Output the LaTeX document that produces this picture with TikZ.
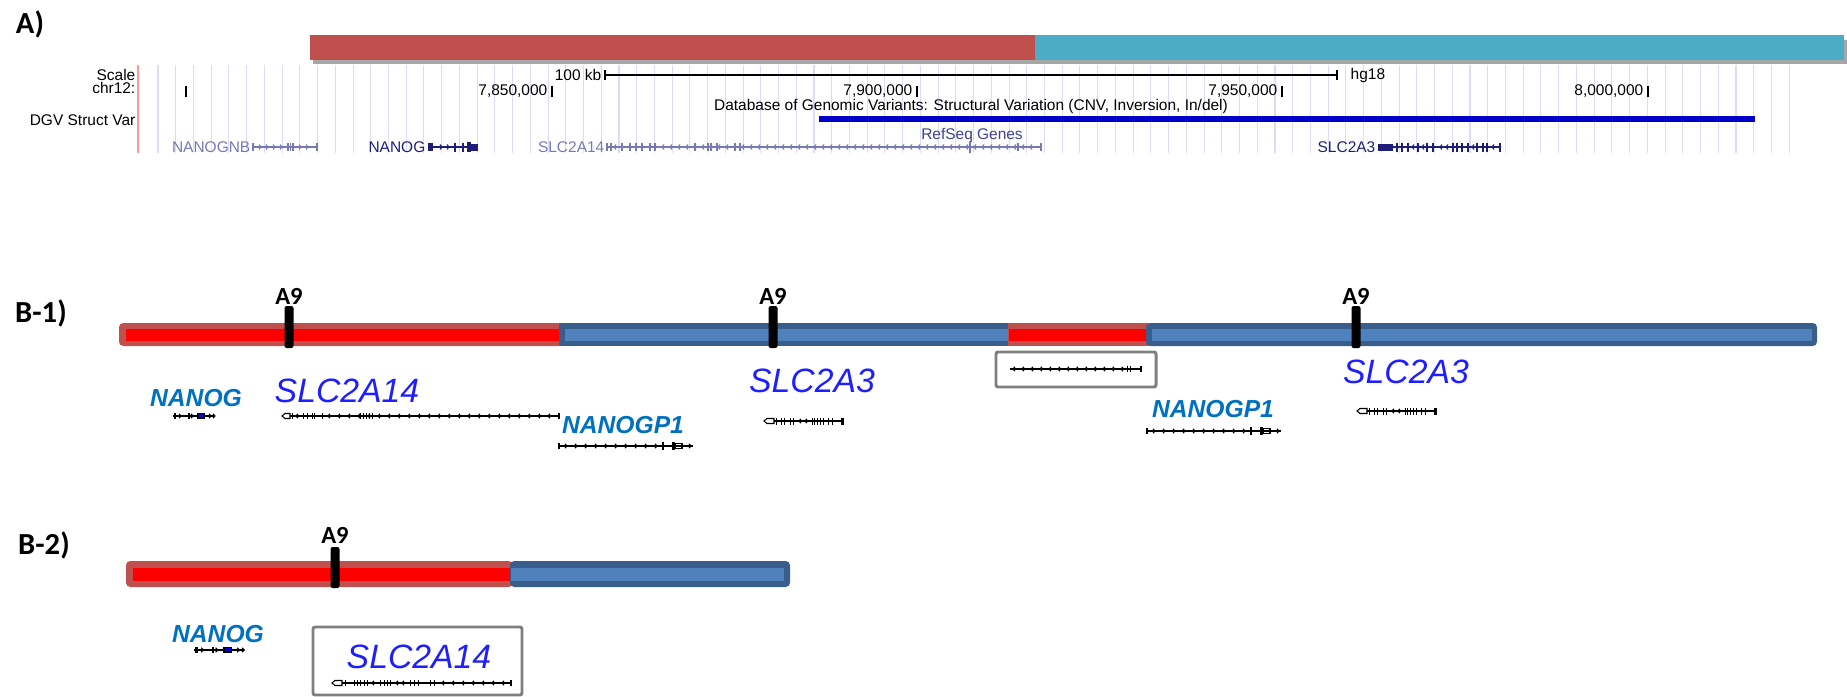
\documentclass[tikz,border=0pt]{standalone}
\usepackage{fontspec}
\setmainfont{Liberation Sans}
\newfontfamily\calibri{Carlito}
\definecolor{barred}{HTML}{C0504D}
\definecolor{barcyan}{HTML}{4BACC6}
\definecolor{rimblue}{HTML}{3A5E8C}
\definecolor{coreblue}{HTML}{4F81BD}
\definecolor{gridlav}{HTML}{DCDCF6}
\definecolor{ucsclight}{HTML}{7878B4}
\definecolor{ucscnavy}{HTML}{1E1E78}
\definecolor{dgvblue}{HTML}{0000C8}
\definecolor{genelabel}{HTML}{1E1EFF}
\definecolor{nanoglabel}{HTML}{0070C0}
\definecolor{boxgray}{HTML}{7F7F7F}

\begin{document}
\begin{tikzpicture}[x=0.01cm, y=-0.01cm,
  panel/.style={font=\calibri\bfseries\fontsize{8.7}{10}\selectfont, inner sep=0pt},
  site/.style={font=\calibri\bfseries\fontsize{7}{8}\selectfont, inner sep=0pt},
  ucsc/.style={font=\fontsize{4.4}{5}\selectfont, inner sep=0pt},
  biglbl/.style={font=\itshape\fontsize{9.6}{11}\selectfont, text=genelabel, inner sep=0pt},
  smalllbl/.style={font=\bfseries\itshape\fontsize{7}{8}\selectfont, text=nanoglabel, inner sep=0pt},
  gl/.style={line width=0.3pt},
  graybox/.style={draw=boxgray, line width=0.85pt, rounded corners=0.6pt},
  rc/.style={rounded corners=1.2pt},
  % gene glyphs of panel B, origin at the left end of the gene
  nanoggene/.pic={
    \draw[gl] (0,0) -- (42,0);
    \fill (1,-3) rectangle (3,3);
    \draw[gl] (6,-2.2) -- (8,0) -- (6,2.2);
    \fill (15,-3) rectangle (16.5,3);
    \draw[gl] (18,-2.2) -- (20,0) -- (18,2.2);
    \fill (24,-3) rectangle (25.5,3);
    \draw[gl, fill=dgvblue] (25.5,-2.5) rectangle (31,2.5);
    \draw[gl] (36,-2.2) -- (38,0) -- (36,2.2);
    \draw[gl] (40,-2.2) -- (42,0) -- (40,2.2);
  },
  slcfourteengene/.pic={
    \draw[gl] (0,0) -- (3,-2.5) -- (8,-2.5) -- (8,2.5) -- (3,2.5) -- cycle;
    \draw[gl] (8,0) -- (277,0);
    \foreach \x in {10,21,25,30,32,40,78,81,84,87,90}
      \fill (\x,-3) rectangle (\x+1.2,3);
    \foreach \x in {14,46,56,...,266}
      \draw[gl] (\x+2,-2.2) -- (\x,0) -- (\x+2,2.2);
    \draw[gl] (277,-3) -- (277,3);
  },
  nanogpgene/.pic={
    \draw[gl] (0,0) -- (134,0);
    \draw[gl] (0,-3) -- (0,3);
    \foreach \x in {8,18,...,98}
      \draw[gl] (\x-2,-2.2) -- (\x,0) -- (\x-2,2.2);
    \draw[gl] (104,-4) -- (104,4);
    \fill (113,-4) rectangle (116,4);
    \draw[gl] (116,-2.5) rectangle (123,2.5);
    \draw[gl] (130,-2.2) -- (132,0) -- (130,2.2);
  },
  slcthreegene/.pic={
    \draw[gl] (0,0) -- (3,-2.5) -- (10,-2.5) -- (10,2.5) -- (3,2.5) -- cycle;
    \draw[gl] (10,0) -- (79,0);
    \foreach \x in {12,17,20,26,29,48,50,53,56,59,64,68,77}
      \fill (\x,-3.5) rectangle (\x+1.2,3.5);
    \foreach \x in {35,41}
      \draw[gl] (\x+2,-2.2) -- (\x,0) -- (\x+2,2.2);
    \draw[gl] (79,-3.5) -- (79,3.5);
  },
  boxedgene/.pic={
    \draw[gl] (0,0) -- (131,0);
    \foreach \x in {3,12,...,112}
      \draw[gl] (\x+2,-2.2) -- (\x,0) -- (\x+2,2.2);
    \fill (117,-3) rectangle (118,3);
    \fill (119.5,-3) rectangle (120.5,3);
    \draw[gl] (131,-3) -- (131,3);
  },
  slcfourteenshort/.pic={
    \draw[gl] (0,0) -- (3,-2.5) -- (10,-2.5) -- (10,2.5) -- (3,2.5) -- cycle;
    \draw[gl] (10,0) -- (179,0);
    \foreach \x in {13,22,25,28,32,35,48,52,55,58,78,82,86,98,102}
      \fill (\x,-3) rectangle (\x+1.2,3);
    \foreach \x in {40,64,70,110,120,...,170}
      \draw[gl] (\x+2,-2.2) -- (\x,0) -- (\x+2,2.2);
    \draw[gl] (179,-3) -- (179,3);
  }]
\useasboundingbox (0,0) rectangle (1847,697);

% ---------- panel A: browser view ----------
\node[panel] (lblA) at (30,24) {A)};
\fill[black!35] (313,40) rectangle (1847,64);
\fill[barred] (310,35) rectangle (1035,60);
\fill[barcyan] (1035,35) rectangle (1844,60);

\foreach \i in {0,...,92}
  \draw[gridlav, line width=0.3pt] ({158+17.73*\i},65) -- ({158+17.73*\i},153);
\draw[red!40, line width=0.35pt] (138,65) -- (138,153);

\node[ucsc, anchor=east] (scalelbl) at (136,75) {Scale};
\node[ucsc, anchor=east] (chrlbl) at (136,88) {chr12:};
\node[ucsc, anchor=east] (dgvlbl) at (136,120) {DGV Struct Var};

% scale bar
\node[ucsc, anchor=east] (kblbl) at (602,75) {100 kb};
\node[ucsc, anchor=west] (hglbl) at (1350,75) {hg18};
\draw[line width=0.35pt] (605,75) -- (1337,75);
\draw[line width=0.35pt] (605,70) -- (605,80);
\draw[line width=0.35pt] (1337,70) -- (1337,80);

% chromosome positions
\draw[line width=0.4pt] (186,86) -- (186,97);
\foreach \x/\t [count=\i] in {552/{7,850,000}, 917/{7,900,000}, 1282/{7,950,000}, 1648/{8,000,000}} {
  \draw[line width=0.4pt] (\x,86) -- (\x,97);
  \node[ucsc, anchor=east] (pos\i) at (\x-4,91) {\t};
}

% structural variation track
\node[ucsc] (dgvtitle) at (971,106) {Database of Genomic Variants: Structural Variation (CNV, Inversion, In/del)};
\draw[dgvblue, line width=1.7pt] (819,119) -- (1755,119);
\node[ucsc, text=ucscnavy!85] (refseq) at (972,136) {RefSeq Genes};

% RefSeq genes
\node[ucsc, anchor=east, text=ucsclight] (nanognb) at (251,147) {NANOGNB};
\node[ucsc, anchor=east, text=ucscnavy] (nanogA) at (426,147) {NANOG};
\node[ucsc, anchor=east, text=ucsclight] (slcfourteenA) at (605,147) {SLC2A14};
\node[ucsc, anchor=east, text=ucscnavy] (slcthreeA) at (1376,147) {SLC2A3};

\begin{scope}[ucsclight]
  \draw[gl] (253,147) -- (317,147);
  \draw[line width=0.4pt] (253,143) -- (253,151);
  \foreach \x in {261,268,275,282,301,308}
    \draw[gl] (\x-2,144.5) -- (\x,147) -- (\x-2,149.5);
  \foreach \x in {288,290.5,293}
    \draw[line width=0.5pt] (\x,143) -- (\x,151);
  \draw[line width=0.4pt] (317,143) -- (317,151);
  \draw[gl] (607,147) -- (1041,147);
  \foreach \x in {607,611,622,630,636,642,650,655,695,708,711,717,735,740,1018,1041}
    \draw[line width=0.4pt] (\x,143) -- (\x,151);
  \draw[line width=0.5pt] (970,141) -- (970,153);
  \foreach \x in {614,662,670,...,1035}
    \draw[gl] (\x+2,144.5) -- (\x,147) -- (\x+2,149.5);
\end{scope}
\begin{scope}[ucscnavy]
  \fill (428,143) rectangle (433,151);
  \draw[gl] (433,147) -- (467,147);
  \foreach \x in {442,449}
    \draw[gl] (\x-2,144.5) -- (\x,147) -- (\x-2,149.5);
  \foreach \x in {455,463}
    \draw[line width=0.5pt] (\x,142.5) -- (\x,151.5);
  \fill (467,142) rectangle (471,152);
  \fill (471,143.5) rectangle (478,150.5);
  \fill (1378,143.5) rectangle (1393,150.5);
  \draw[gl] (1393,147) -- (1500,147);
  \foreach \x in {1397,1402,1408,1418,1427,1433,1453,1457,1462,1468,1477,1483,1487,1500}
    \draw[line width=0.45pt] (\x,142.5) -- (\x,151.5);
  \foreach \x in {1412,1422,1440,1446,1472,1492}
    \draw[gl] (\x+2,144.5) -- (\x,147) -- (\x+2,149.5);
\end{scope}

% ---------- panel B-1 ----------
\node[panel] (lblBone) at (41,313) {B-1)};
\fill[barred, rc] (119,323) rectangle (562,346);
\fill[red] (126,329) rectangle (562,341);
\fill[rimblue] (559,323) rectangle (1010,346);
\fill[coreblue] (565,329) rectangle (1010,341);
\fill[barred] (1008,323) rectangle (1149,346);
\fill[red] (1009,329) rectangle (1146,341);
\fill[rimblue, rc] (1146,323) rectangle (1817,346);
\fill[coreblue] (1152,329) rectangle (1812,341);

\foreach \x/\n in {289/a, 773/b, 1356/c} {
  \fill[rounded corners=0.6pt] (\x-4.5,306) rectangle (\x+4.5,348);
  \node[site] (site\n) at (\x,296) {A9};
}

\node[smalllbl] (nanogBone) at (196,398) {NANOG};
\pic at (173,416) {nanoggene};
\node[biglbl] (slcfourteenBone) at (347,391) {SLC2A14};
\pic at (282,416) {slcfourteengene};
\node[smalllbl] (nanogpa) at (623,425) {NANOGP1};
\pic at (559,446) {nanogpgene};
\node[biglbl] (slcthreea) at (812,381) {SLC2A3};
\pic at (764,421) {slcthreegene};
\draw[graybox] (996,352) rectangle (1156,387);
\pic at (1010,369) {boxedgene};
\node[smalllbl] (nanogpb) at (1213,409) {NANOGP1};
\pic at (1147,431) {nanogpgene};
\node[biglbl] (slcthreeb) at (1406,372) {SLC2A3};
\pic at (1357,411) {slcthreegene};

% ---------- panel B-2 ----------
\node[panel] (lblBtwo) at (44,545) {B-2)};
\fill[barred, rc] (126,561) rectangle (513,587);
\fill[red] (133,568) rectangle (513,581);
\fill[rimblue, rc] (510,561) rectangle (790,587);
\fill[coreblue] (511,568) rectangle (784,581);
\fill[rounded corners=0.6pt] (330.5,547) rectangle (339.5,588);
\node[site] (sited) at (335,535) {A9};

\node[smalllbl] (nanogBtwo) at (218,634) {NANOG};
\pic[xscale=1.2] at (194,650) {nanoggene};
\draw[graybox] (313,627) rectangle (522,695);
\node[biglbl] (slcfourteenBtwo) at (419,657) {SLC2A14};
\pic at (332,683) {slcfourteenshort};
\end{tikzpicture}
\end{document}
